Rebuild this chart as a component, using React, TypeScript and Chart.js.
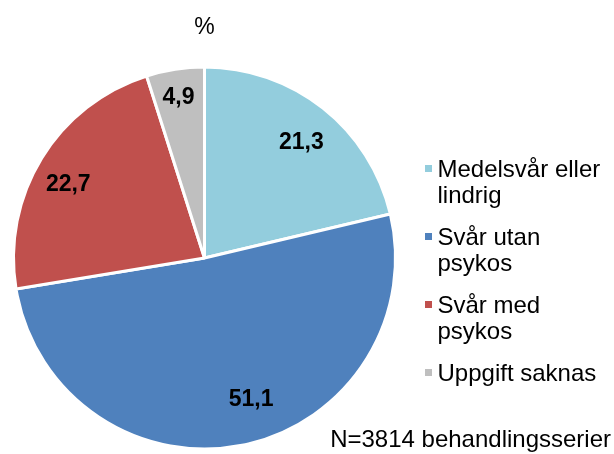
import React, { useEffect, useRef } from "react";
import { Chart, registerables } from "chart.js";

Chart.register(...registerables);

const categories = ["Medelsvår eller lindrig", "Svår utan psykos", "Svår med psykos", "Uppgift saknas"];
const values = [21.3, 51.1, 22.7, 4.9];
const colors = ["#93CDDD", "#4F81BD", "#C0504D", "#BFBFBF"];
const unitLabel = "%";
const footnote = "N=3814 behandlingsserier";

// label placement style (fraction of radius, angular shift in degrees from bisector)
const labelRadiusFrac = [0.79, 0.78, 0.81, 0.85];
const labelAngleShift = [1.6, -6.9, -3.2, -0.4];

const FONT = '"Liberation Sans", Arial, sans-serif';

const overlayPlugin = {
  id: "overlay",
  afterDatasetsDraw(chart: any) {
    const ctx = chart.ctx;
    const meta = chart.getDatasetMeta(0);
    ctx.save();
    // data labels
    ctx.font = `bold 23px ${FONT}`;
    ctx.fillStyle = "#000000";
    ctx.textAlign = "center";
    ctx.textBaseline = "middle";
    meta.data.forEach((arc: any, i: number) => {
      const p = arc.getProps(["x", "y", "startAngle", "endAngle", "outerRadius"], true);
      const mid = (p.startAngle + p.endAngle) / 2 + (labelAngleShift[i] * Math.PI) / 180;
      const r = p.outerRadius * labelRadiusFrac[i];
      const txt = values[i].toFixed(1).replace(".", ",");
      ctx.fillText(txt, p.x + Math.cos(mid) * r, p.y + Math.sin(mid) * r);
    });

    // unit label above pie
    const cx = meta.data[0].x;
    ctx.font = `23px ${FONT}`;
    ctx.textBaseline = "alphabetic";
    ctx.fillText(unitLabel, cx, 34);

    // legend
    ctx.font = `24px ${FONT}`;
    ctx.textAlign = "left";
    const legendX = 437.5;
    const maxW = 170;
    const lineH = 26.7;
    const entryGap = 41.3;
    let baseY = 176.7;
    categories.forEach((cat, i) => {
      const words = cat.split(" ");
      const lines: string[] = [];
      let cur = "";
      words.forEach((w) => {
        const test = cur ? cur + " " + w : w;
        if (ctx.measureText(test).width > maxW && cur) {
          lines.push(cur);
          cur = w;
        } else {
          cur = test;
        }
      });
      if (cur) lines.push(cur);
      ctx.fillStyle = colors[i];
      ctx.fillRect(425, baseY - 11.7, 7, 7);
      ctx.fillStyle = "#000000";
      lines.forEach((ln, j) => {
        ctx.fillText(ln, legendX, baseY + j * lineH);
      });
      baseY += (lines.length - 1) * lineH + entryGap;
    });

    // footnote
    ctx.textAlign = "right";
    ctx.fillText(footnote, 611, 447);
    ctx.restore();
  },
};

export default function App() {
  const ref = useRef<HTMLCanvasElement | null>(null);
  useEffect(() => {
    if (!ref.current) return;
    const chart = new Chart(ref.current, {
      type: "pie",
      data: {
        labels: categories,
        datasets: [
          {
            data: values,
            backgroundColor: colors,
            borderColor: "#FFFFFF",
            borderWidth: 3,
          },
        ],
      },
      options: {
        responsive: false,
        animation: false,
        layout: { padding: { left: 12, top: 65.5, right: 217, bottom: 3.5 } },
        plugins: {
          legend: { display: false },
          tooltip: { enabled: false },
          title: { display: false },
        },
      },
      plugins: [overlayPlugin],
    });
    return () => chart.destroy();
  }, []);
  return (
    <div style={{ position: "fixed", left: 0, top: 0, width: 614, height: 454, background: "#fff" }}>
      <canvas ref={ref} width={614} height={454} />
    </div>
  );
}
